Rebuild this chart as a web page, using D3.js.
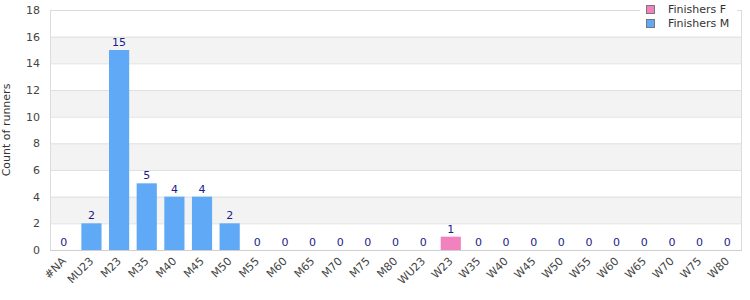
<!DOCTYPE html>
<html>
<head>
<meta charset="utf-8">
<script src="https://cdn.jsdelivr.net/npm/d3@7"></script>
<style>
  body { margin: 0; background: #fff; }
  svg text { font-family: "DejaVu Sans", sans-serif; }
</style>
</head>
<body>
<div id="chart"></div>
<script>
var categories = ["#NA","MU23","M23","M35","M40","M45","M50","M55","M60","M65","M70","M75","M80",
    "WU23","W23","W35","W40","W45","W50","W55","W60","W65","W70","W75","W80"];
var finishersF = [0,0,0,0,0,0,0,0,0,0,0,0,0,0,1,0,0,0,0,0,0,0,0,0,0];
var finishersM = [0,2,15,5,4,4,2,0,0,0,0,0,0,0,0,0,0,0,0,0,0,0,0,0,0];
var yTicks = [0,2,4,6,8,10,12,14,16,18];
var seriesNames = ["Finishers F", "Finishers M"];

var width = 750, height = 300;
var margin = {top: 10, right: 9, bottom: 50, left: 50};
var w = width - margin.left - margin.right,
    h = height - margin.top - margin.bottom;

var svg = d3.select("#chart").append("svg")
    .attr("width", width).attr("height", height);
var g = svg.append("g")
    .attr("transform", "translate(" + margin.left + "," + margin.top + ")");

var x = d3.scaleBand().domain(categories).range([0, w]).paddingInner(0.27).paddingOuter(0.135);
var y = d3.scaleLinear().domain([0, 18]).range([h, 0]);
var z = d3.scaleOrdinal().domain(seriesNames).range(["#f282bf", "#60a9f6"]);

// alternating bands
var bands = [[2,4],[6,8],[10,12],[14,16]];
g.selectAll(".band").data(bands).enter().append("rect")
    .attr("x", 0).attr("width", w)
    .attr("y", function (d) { return y(d[1]); })
    .attr("height", function (d) { return y(d[0]) - y(d[1]); })
    .attr("fill", "#f3f3f3");

// grid lines
g.selectAll(".grid").data(yTicks).enter().append("line")
    .attr("x1", 0).attr("x2", w)
    .attr("y1", function (d) { return y(d) + 0.5; })
    .attr("y2", function (d) { return y(d) + 0.5; })
    .attr("stroke", "#e0e0e0");

// border
g.append("rect").attr("x", 0.5).attr("y", 0.5).attr("width", w).attr("height", h)
    .attr("fill", "none").attr("stroke", "#dcdcdc");

var rows = categories.map(function (c, i) {
    return {cat: c, "Finishers F": finishersF[i], "Finishers M": finishersM[i]};
});
var stacked = d3.stack().keys(seriesNames)(rows);

g.append("g").selectAll("g").data(stacked).enter().append("g")
    .attr("fill", function (d) { return z(d.key); })
    .selectAll("rect").data(function (d) { return d; }).enter().append("rect")
    .attr("x", function (d) { return x(d.data.cat); })
    .attr("y", function (d) { return y(d[1]); })
    .attr("width", x.bandwidth())
    .attr("height", function (d) { return y(d[0]) - y(d[1]); });

// value labels
g.selectAll(".val").data(rows).enter().append("text")
    .attr("x", function (d) { return x(d.cat) + x.bandwidth() / 2; })
    .attr("y", function (d) { return y(d["Finishers F"] + d["Finishers M"]) - 4; })
    .attr("text-anchor", "middle")
    .attr("font-size", "11px")
    .attr("fill", "#1c1c8c")
    .text(function (d) { return d["Finishers F"] + d["Finishers M"]; });

// axes
var yAxis = g.append("g")
    .call(d3.axisLeft(y).tickValues(yTicks).tickSize(0).tickPadding(10));
yAxis.select(".domain").remove();
yAxis.selectAll("text").attr("font-size", "11px").attr("fill", "#444");

var xAxis = g.append("g").attr("transform", "translate(0," + h + ")")
    .call(d3.axisBottom(x).tickSize(0));
xAxis.select(".domain").attr("stroke", "#cfcfcf");
xAxis.selectAll("text")
    .attr("font-size", "11px").attr("fill", "#444")
    .attr("text-anchor", "end")
    .attr("x", 0).attr("y", 0)
    .attr("dy", "0.35em")
    .attr("transform", "translate(0,9) rotate(-45)");

svg.append("text")
    .attr("transform", "translate(10," + (margin.top + h / 2) + ") rotate(-90)")
    .attr("text-anchor", "middle")
    .attr("font-size", "11px").attr("fill", "#333")
    .text("Count of runners");

// legend
var legend = svg.append("g").attr("transform", "translate(640,0)");
legend.append("rect").attr("width", 97).attr("height", 32).attr("fill", "#fff");
var items = legend.selectAll(".item").data(seriesNames).enter().append("g")
    .attr("transform", function (d, i) { return "translate(0," + i * 14 + ")"; });
items.append("rect")
    .attr("x", 6.5).attr("y", 5.5).attr("width", 8).attr("height", 8)
    .attr("fill", z).attr("stroke", "#777");
items.append("text")
    .attr("x", 28).attr("y", 13)
    .attr("font-size", "11px").attr("fill", "#333")
    .text(function (d) { return d; });
</script>
</body>
</html>
